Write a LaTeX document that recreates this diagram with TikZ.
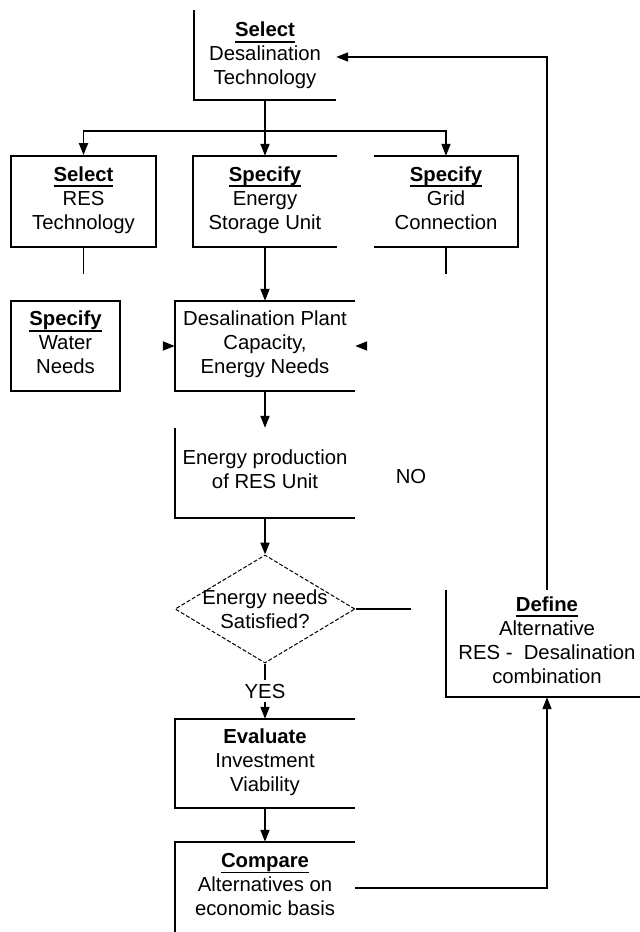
\documentclass[tikz,border=0pt]{standalone}
\usepackage{fontspec}
\setmainfont{Liberation Sans}
\usetikzlibrary{arrows.meta,positioning,shapes.geometric}
\newcommand{\hd}[1]{\setbox0\hbox{\textbf{#1}}\rlap{\rule[-6pt]{\wd0}{1.8pt}}\box0}

\begin{document}
\begin{tikzpicture}[x=1pt, y=-1pt,
  font=\fontsize{20.3}{24}\selectfont,
  blk/.style={minimum width=180pt, minimum height=90pt, align=center, inner sep=0pt, execute at end node=\strut},
  rim/.style={line width=1.8pt},
  flow/.style={-{Triangle[length=12pt,width=9pt]}, line width=1.8pt},
  decide/.style={diamond, draw, dash pattern=on 4pt off 2pt, line width=1pt, inner sep=0pt, minimum width=180pt, minimum height=108pt}]
\useasboundingbox (0,0) rectangle (640,932);
\node[blk, minimum width=142pt, minimum height=86pt] (dtech) at (265,57) {\hd{Select}\\Desalination\\Technology};
\node[blk, draw, rim, minimum width=145pt, minimum height=91pt] (resT) at (83.5,201.5) {\hd{Select}\\RES\\Technology};
\node[blk, minimum width=144pt, minimum height=91pt] (stor) at (265,201.5) {\hd{Specify}\\Energy\\Storage Unit};
\node[blk, minimum width=144pt, minimum height=91pt] (grid) at (446,201.5) {\hd{Specify}\\Grid\\Connection};
\node[blk, draw, rim, minimum width=109pt] (water) at (65.5,346) {\hd{Specify}\\Water\\Needs};
\node[blk] (plant) at (265,346) {Desalination Plant\\Capacity,\\Energy Needs};
\node[blk] (prod) at (265,473) {Energy production\\of RES Unit};
\node[decide, label={[align=center]center:Energy needs\\Satisfied?}] (dec) at (265,609) {};
\node[blk, minimum height=89pt] (eval) at (265,763.5) {\textbf{Evaluate}\\Investment\\Viability};
\node[blk, minimum height=92pt] (cmp) at (265,888) {\hd{Compare}\\Alternatives on\\economic basis};
\node[blk, minimum width=202pt, minimum height=107pt] (alt) at (547,643.5) {\hd{Define}\\Alternative\\RES - \ Desalination\\combination};
\node (no) at (411,477) {NO};
\draw[rim] ([yshift=4pt]dtech.north west) -- (dtech.south west) -- (dtech.south east);
\draw[rim] (stor.north east) -- (stor.north west) -- (stor.south west) -- (stor.south east);
\draw[rim] (grid.north west) -- (grid.north east) -- (grid.south east) -- (grid.south west);
\draw[rim] (plant.north east) -- (plant.north west) -- (plant.south west) -- (plant.south east);
\draw[rim] (prod.north west) -- (prod.south west) -- (prod.south east);
\draw[rim] (eval.north east) -- (eval.north west) -- (eval.south west) -- (eval.south east);
\draw[rim] (cmp.north east) -- (cmp.north west) -- (cmp.south west);
\draw[rim] (alt.north west) -- (alt.south west) -- (alt.south east);
\coordinate[below=31pt of dtech.south] (fork);
\draw[rim] (dtech.south) -- (fork);
\draw[flow] (fork) -| (resT.north);
\draw[flow] (fork) -- (stor.north);
\draw[flow] (fork) -| (grid.north);
\coordinate[below=26pt of resT.south] (resEnd);
\coordinate[below=27pt of grid.south] (gridEnd);
\draw[rim] (resT.south) -- (resEnd);
\draw[rim] (grid.south) -- (gridEnd);
\draw[flow] (stor.south) -- (plant.north);
\coordinate[left=12pt of plant.west] (waterIn);
\coordinate[right=11pt of plant.east] (gridIn);
\draw[flow] (waterIn) -- (plant.west);
\draw[flow] (gridIn) -- (plant.east);
\draw[flow] (plant.south) -- (prod.north);
\draw[flow] (prod.south) -- (dec.north);
\coordinate[right=55pt of dec.east] (noEnd);
\draw[rim] (dec.east) -- (noEnd);
\draw[flow] (dec.south) -- node[fill=white, inner sep=4pt] (yes) {YES} (eval.north);
\draw[flow] (eval.south) -- (cmp.north);
\draw[flow] (cmp.east) -| (alt.south);
\draw[flow] (alt.north) |- (dtech.east);
\end{tikzpicture}
\end{document}
